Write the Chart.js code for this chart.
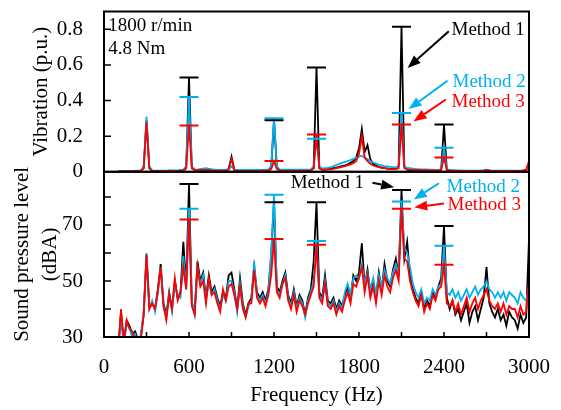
<!DOCTYPE html>
<html lang="en">
<head>
<meta charset="UTF-8" />
<title>Vibration and sound pressure spectra</title>
<script src="https://cdn.jsdelivr.net/npm/chart.js"></script>
<style>
  html, body { margin: 0; padding: 0; background: #fff; }
  #chart { display: block; }
</style>
</head>
<body>
<canvas id="chart" width="561" height="410"></canvas>
<script>
// frequency points (Hz), one row per 100 Hz
const freq = [
  100, 120, 140, 160, 180,   200, 220, 240, 260, 280,
  300, 320, 340, 360, 380,   400, 420, 440, 460, 480,
  500, 520, 540, 560, 580,   600, 620, 640, 660, 680,
  700, 720, 740, 760, 780,   800, 820, 840, 860, 880,
  900, 920, 940, 960, 980,   1000, 1020, 1040, 1060, 1080,
  1100, 1120, 1140, 1160, 1180,   1200, 1220, 1240, 1260, 1280,
  1300, 1320, 1340, 1360, 1380,   1400, 1420, 1440, 1460, 1480,
  1500, 1520, 1540, 1560, 1580,   1600, 1620, 1640, 1660, 1680,
  1700, 1720, 1740, 1760, 1780,   1800, 1820, 1840, 1860, 1880,
  1900, 1920, 1940, 1960, 1980,   2000, 2020, 2040, 2060, 2080,
  2100, 2120, 2140, 2160, 2180,   2200, 2220, 2240, 2260, 2280,
  2300, 2320, 2340, 2360, 2380,   2400, 2420, 2440, 2460, 2480,
  2500, 2520, 2540, 2560, 2580,   2600, 2620, 2640, 2660, 2680,
  2700, 2720, 2740, 2760, 2780,   2800, 2820, 2840, 2860, 2880,
  2900, 2920, 2940, 2960, 2980,   3000
];

// vibration (p.u.)
const vibM1 = [
  .002, .002, .003, .002, .003,   .003, .004, .004, .005, .02,
  .29, .02, .005, .004, .004,     .005, .004, .004, .006, .005,
  .005, .005, .006, .008, .02,    .53, .02, .01, .008, .012,
  .01, .012, .014, .01, .008,     .008, .007, .006, .008, .015,
  .085, .012, .006, .006, .005,   .005, .006, .005, .006, .005,
  .006, .006, .007, .008, .02,    .29, .025, .01, .008, .007,
  .006, .006, .007, .006, .006,   .006, .006, .007, .008, .02,
  .585, .02, .012, .012, .014,    .016, .02, .024, .028, .032,
  .036, .042, .05, .06, .08,      .13, .24, .11, .15, .07,
  .045, .035, .028, .024, .02,    .018, .016, .016, .018, .035,
  .815, .03, .012, .01, .01,      .009, .008, .008, .008, .008,
  .007, .007, .007, .006, .01,    .265, .01, .006, .005, .005,
  .004, .004, .004, .004, .004,   .004, .004, .004, .005, .005,
  .01, .006, .004, .004, .004,    .004, .004, .004, .004, .004,
  .004, .004, .005, .005, .008,   .03
];
const vibM2 = [
  .003, .003, .004, .004, .005,   .005, .006, .006, .007, .03,
  .31, .03, .008, .006, .006,     .006, .006, .007, .008, .008,
  .008, .008, .01, .012, .03,     .42, .03, .014, .012, .016,
  .018, .02, .016, .014, .012,    .01, .01, .01, .012, .014,
  .03, .012, .01, .01, .01,       .01, .01, .01, .01, .01,
  .01, .01, .012, .012, .03,      .30, .03, .014, .012, .012,
  .012, .012, .012, .012, .012,   .012, .012, .012, .014, .03,
  .185, .03, .018, .02, .022,     .026, .032, .038, .044, .05,
  .055, .06, .066, .072, .08,     .085, .09, .08, .07, .06,
  .052, .046, .04, .036, .032,    .03, .028, .026, .024, .03,
  .33, .03, .022, .02, .018,      .016, .015, .014, .013, .013,
  .012, .012, .011, .011, .014,   .135, .014, .01, .009, .008,
  .008, .008, .007, .007, .007,   .007, .007, .007, .008, .008,
  .012, .009, .007, .007, .006,   .006, .006, .006, .006, .006,
  .006, .006, .006, .007, .01,    .03
];
const vibM3 = [
  .002, .002, .002, .002, .003,   .003, .003, .004, .004, .02,
  .28, .02, .004, .004, .004,     .004, .004, .004, .005, .005,
  .005, .005, .006, .007, .02,    .26, .02, .01, .008, .01,
  .008, .01, .01, .008, .007,     .006, .006, .006, .007, .012,
  .073, .01, .005, .005, .005,    .005, .005, .005, .005, .005,
  .006, .006, .006, .007, .015,   .06, .015, .008, .007, .006,
  .006, .006, .006, .006, .006,   .006, .006, .007, .008, .02,
  .21, .02, .012, .012, .013,     .014, .016, .02, .024, .028,
  .032, .036, .042, .048, .06,    .10, .20, .08, .06, .045,
  .035, .03, .026, .022, .02,     .018, .016, .015, .015, .02,
  .265, .02, .014, .012, .011,    .01, .01, .009, .009, .009,
  .008, .008, .008, .008, .012,   .08, .01, .007, .006, .006,
  .005, .005, .005, .005, .005,   .005, .005, .005, .005, .006,
  .01, .007, .005, .005, .005,    .005, .005, .005, .005, .005,
  .005, .005, .006, .008, .012,   .06
];

// sound pressure level (dBA)
const splM1 = [
  25, 39, 28, 36, 34,   31, 32, 29, 30, 38,
  59, 41, 42, 40, 47,   56, 42, 38, 46, 40,
  50, 44, 46, 64, 48,   84.6, 42, 39, 57, 50,
  53, 44, 52, 46, 48,   44, 41, 46, 44, 52,
  53, 47, 40, 51, 42,   38, 42, 44, 55, 46,
  44, 46, 43, 47, 59,   78.1, 48, 46, 50, 53,
  45, 42, 47, 41, 45,   43, 38, 44, 47, 57,
  78.1, 46, 44, 52, 43, 42, 44, 40, 43, 41,
  45, 48, 44, 52, 50,   53, 63.5, 48, 54, 46,
  50, 44, 53, 47, 56,   50, 48, 54, 58, 52,
  82.5, 58, 64, 52, 47, 44, 42, 46, 40, 43,
  41, 46, 44, 48, 51,   69.6, 44, 40, 43, 38,
  40, 36, 39, 42, 35,   39, 41, 36, 40, 44,
  55, 42, 39, 37, 40,   36, 38, 34, 39, 37,
  36, 33, 38, 35, 37,   65
];
const splM2 = [
  25, 37, 27, 35, 33,   30, 31, 28, 31, 39,
  60, 40, 43, 39, 46,   55, 41, 37, 45, 39,
  49, 45, 44, 59, 47,   75.8, 43, 38, 55, 49,
  52, 43, 50, 45, 47,   43, 40, 45, 43, 50,
  50, 46, 39, 49, 41,   37, 41, 43, 57, 45,
  43, 45, 42, 46, 60,   80.8, 47, 45, 49, 52,
  44, 41, 46, 40, 44,   42, 37, 43, 46, 50,
  64.3, 45, 43, 50, 42, 41, 43, 39, 42, 40,
  46, 49, 45, 51, 52,   51, 56, 49, 53, 47,
  51, 45, 52, 48, 54,   51, 49, 53, 56, 53,
  78.4, 62, 60, 55, 49, 46, 44, 47, 42, 44,
  43, 47, 45, 48, 49,   62.6, 46, 45, 47, 44,
  46, 43, 45, 47, 44,   46, 48, 45, 47, 48,
  50, 47, 46, 44, 46,   44, 46, 43, 46, 45,
  44, 42, 46, 44, 43,   48
];
const splM3 = [
  25, 40, 28, 36, 33,   32, 29, 30, 29, 38,
  59.5, 40, 42, 40, 46, 55, 41, 36, 45, 40,
  51, 43, 46, 55, 47,   72, 41, 38, 55, 48,
  50, 42, 51, 45, 46,   42, 39, 47, 43, 48,
  49, 45, 40, 48, 40,   37, 42, 42, 54, 44,
  42, 44, 41, 45, 52,   65, 46, 44, 49, 51,
  43, 40, 45, 39, 43,   41, 38, 42, 45, 48,
  62.9, 44, 42, 49, 41, 40, 42, 38, 41, 39,
  43, 46, 42, 49, 48,   51, 55, 46, 52, 44,
  48, 42, 50, 45, 52,   48, 46, 51, 54, 50,
  75.8, 58, 57, 50, 46, 43, 41, 45, 39, 42,
  40, 45, 43, 47, 48,   55.8, 42, 41, 43, 39,
  42, 38, 41, 44, 39,   42, 44, 40, 43, 45,
  47, 43, 41, 40, 42,   39, 42, 38, 41, 40,
  40, 37, 41, 38, 39,   50
];

// harmonics marked with peak caps
const capFreq = [600, 1200, 1500, 2100, 2400];

// tick labels
const xTickLabels = [0, 600, 1200, 1800, 2400, 3000];
const vibTickLabels = [0, 0.2, 0.4, 0.6, 0.8];
const splTickLabels = [30, 50, 70];

const BLACK = '#000000', BLUE = '#00B0F0', RED = '#FF0000';
const SERIF = '"Liberation Serif", "Times New Roman", serif';

// text and arrows, in data units of each panel
const notes = [
  { axis: 'y1', f: 30, v: 0.817, text: '1800 r/min', color: BLACK },
  { axis: 'y1', f: 30, v: 0.689, text: '4.8 Nm', color: BLACK },
  { axis: 'y1', f: 2453, v: 0.794, text: 'Method 1', color: BLACK },
  { axis: 'y1', f: 2460, v: 0.506, text: 'Method 2', color: BLUE },
  { axis: 'y1', f: 2453, v: 0.394, text: 'Method 3', color: RED },
  { axis: 'y2', f: 1318, v: 85.1, text: 'Method 1', color: BLACK },
  { axis: 'y2', f: 2418, v: 83.4, text: 'Method 2', color: BLUE },
  { axis: 'y2', f: 2425, v: 77.3, text: 'Method 3', color: RED }
];
const arrows = [
  { axis: 'y1', from: [2434, 0.789], to: [2143, 0.583], color: BLACK },
  { axis: 'y1', from: [2425, 0.511], to: [2150, 0.352], color: BLUE },
  { axis: 'y1', from: [2413, 0.406], to: [2185, 0.283], color: RED },
  { axis: 'y2', from: [1895, 85.1], to: [2048, 83.5], color: BLACK },
  { axis: 'y2', from: [2364, 84.9], to: [2187, 79.1], color: BLUE },
  { axis: 'y2', from: [2399, 77.7], to: [2190, 76.3], color: RED }
];

function points(arr) {
  return freq.map((f, i) => ({ x: f, y: arr[i] }));
}
function capPoints(arr) {
  return capFreq.map(f => ({ x: f, y: arr[freq.indexOf(f)] }));
}
function spectrum(label, arr, color, axis, order) {
  return {
    label, data: points(arr), yAxisID: axis, order,
    borderColor: color, borderWidth: 1.8, pointRadius: 0, tension: 0
  };
}
function caps(label, arr, color, axis) {
  return {
    label, data: capPoints(arr), yAxisID: axis, order: 0,
    showLine: false, pointStyle: 'line', pointRadius: 9.5,
    pointBorderWidth: 2, pointBorderColor: color, borderColor: color
  };
}
function near(a, b) { return Math.abs(a - b) < 1e-6; }

const framePlugin = {
  id: 'frame',
  afterDraw(chart) {
    const { ctx, chartArea: ca, scales } = chart;
    ctx.save();
    ctx.strokeStyle = BLACK;
    ctx.lineWidth = 1.5;
    ctx.beginPath();
    // inward ticks
    for (const id of ['y1', 'y2']) {
      const s = scales[id];
      s.ticks.forEach(t => {
        if (t.value <= s.min || t.value >= s.max) return;
        const y = s.getPixelForValue(t.value);
        ctx.moveTo(ca.left, y); ctx.lineTo(ca.left + 7, y);
      });
    }
    scales.x.ticks.forEach(t => {
      if (t.value <= scales.x.min || t.value >= scales.x.max) return;
      const x = scales.x.getPixelForValue(t.value);
      ctx.moveTo(x, ca.bottom); ctx.lineTo(x, ca.bottom - 5);
    });
    ctx.stroke();
    ctx.lineWidth = 2;
    for (const id of ['y1', 'y2']) {
      const s = scales[id];
      ctx.strokeRect(ca.left, s.top, ca.right - ca.left, s.bottom - s.top);
    }
    ctx.restore();
  }
};

const notesPlugin = {
  id: 'notes',
  afterDraw(chart) {
    const { ctx, scales } = chart;
    const x = scales.x;
    ctx.save();
    ctx.font = '19px ' + SERIF;
    ctx.textAlign = 'left';
    ctx.textBaseline = 'middle';
    notes.forEach(n => {
      ctx.fillStyle = n.color;
      ctx.fillText(n.text, x.getPixelForValue(n.f), scales[n.axis].getPixelForValue(n.v));
    });
    arrows.forEach(a => {
      const y = scales[a.axis];
      const x0 = x.getPixelForValue(a.from[0]), y0 = y.getPixelForValue(a.from[1]);
      const x1 = x.getPixelForValue(a.to[0]), y1 = y.getPixelForValue(a.to[1]);
      const ang = Math.atan2(y1 - y0, x1 - x0);
      const len = 13, half = 5;
      const bx = x1 - Math.cos(ang) * len, by = y1 - Math.sin(ang) * len;
      ctx.strokeStyle = a.color; ctx.fillStyle = a.color; ctx.lineWidth = 2;
      ctx.beginPath(); ctx.moveTo(x0, y0); ctx.lineTo(bx, by); ctx.stroke();
      ctx.beginPath();
      ctx.moveTo(x1, y1);
      ctx.lineTo(bx + Math.sin(ang) * half, by - Math.cos(ang) * half);
      ctx.lineTo(bx - Math.sin(ang) * half, by + Math.cos(ang) * half);
      ctx.closePath(); ctx.fill();
    });
    ctx.restore();
  }
};

const tickFont = { family: SERIF, size: 21 };
// drop the label overhang padding so the frame sits where the reference has it
function fitY(s) { s.width = 104; s.paddingTop = 0; s.paddingBottom = 0; }

new Chart(document.getElementById('chart'), {
  type: 'line',
  data: {
    datasets: [
      caps('Method 1 peaks', vibM1, BLACK, 'y1'),
      caps('Method 2 peaks', vibM2, BLUE, 'y1'),
      caps('Method 3 peaks', vibM3, RED, 'y1'),
      caps('Method 1 peaks', splM1, BLACK, 'y2'),
      caps('Method 2 peaks', splM2, BLUE, 'y2'),
      caps('Method 3 peaks', splM3, RED, 'y2'),
      spectrum('Method 3', vibM3, RED, 'y1', 1),
      spectrum('Method 2', vibM2, BLUE, 'y1', 2),
      spectrum('Method 1', vibM1, BLACK, 'y1', 3),
      spectrum('Method 3', splM3, RED, 'y2', 1),
      spectrum('Method 2', splM2, BLUE, 'y2', 2),
      spectrum('Method 1', splM1, BLACK, 'y2', 3)
    ]
  },
  options: {
    responsive: false,
    animation: false,
    events: [],
    layout: { padding: { top: 8, right: 32, bottom: 0, left: 0 } },
    plugins: { legend: { display: false }, tooltip: { enabled: false } },
    scales: {
      x: {
        type: 'linear', min: 0, max: 3000,
        grid: { display: false }, border: { display: false },
        ticks: {
          stepSize: 300, autoSkip: false, maxRotation: 0, padding: 10,
          color: BLACK, font: tickFont,
          callback: v => xTickLabels.includes(v) ? String(v) : ''
        },
        title: {
          display: true, text: 'Frequency (Hz)', color: BLACK,
          font: { family: SERIF, size: 21 }, padding: { top: 0, bottom: 2 }
        },
        afterFit: s => { s.height = 73; s.paddingLeft = 0; s.paddingRight = 0; }
      },
      y2: {
        type: 'linear', position: 'left', stack: 'panels', stackWeight: 167,
        min: 30, max: 89, offset: false,
        grid: { display: false }, border: { display: false },
        ticks: {
          stepSize: 10, padding: 13, autoSkip: false, includeBounds: false,
          color: BLACK, font: tickFont,
          callback: v => splTickLabels.includes(v) ? String(v) : ''
        },
        title: {
          display: true, text: ['Sound pressure level', '(dBA)'], color: BLACK,
          font: { family: SERIF, size: 21, lineHeight: 1.333 }, padding: { top: 8.5, bottom: 0 }
        },
        afterFit: fitY
      },
      y1: {
        type: 'linear', position: 'left', stack: 'panels', stackWeight: 162,
        min: 0, max: 0.9, offset: false,
        grid: { display: false }, border: { display: false },
        ticks: {
          stepSize: 0.2, padding: 13, autoSkip: false, includeBounds: false,
          color: BLACK, font: tickFont,
          callback: v => {
            const hit = vibTickLabels.find(t => near(t, v));
            return hit === undefined ? '' : (hit === 0 ? '0' : hit.toFixed(1));
          }
        },
        title: {
          display: true, text: 'Vibration (p.u.)', color: BLACK,
          font: { family: SERIF, size: 21, lineHeight: 1.2 }, padding: { top: 29, bottom: 0 }
        },
        afterFit: fitY
      }
    }
  },
  plugins: [framePlugin, notesPlugin]
});
</script>
</body>
</html>
